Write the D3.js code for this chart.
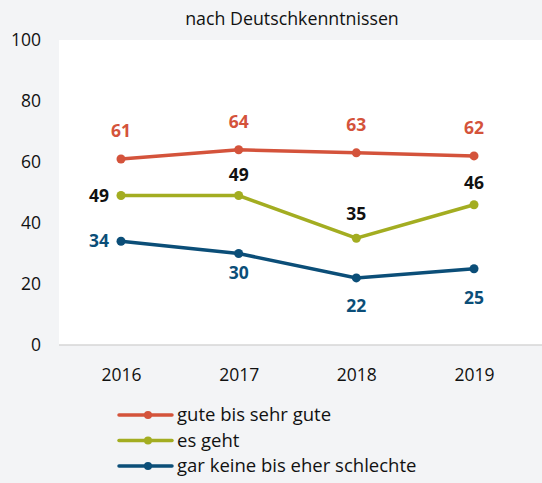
<!DOCTYPE html>
<html>
<head>
<meta charset="utf-8">
<script src="https://cdn.jsdelivr.net/npm/d3@7"></script>
<style>
  body { margin: 0; background: #f3f4f6; }
  text { font-family: "Open Sans", "Noto Sans", sans-serif; }
</style>
</head>
<body>
<script>
var width = 542
var height = 483

// data
var years = ["2016", "2017", "2018", "2019"]
var guteBisSehrGute = [61, 64, 63, 62]
var esGeht = [49, 49, 35, 46]
var garKeine = [34, 30, 22, 25]
var yTicks = [0, 20, 40, 60, 80, 100]

// label placement per point: horizontal shift, vertical shift
var series = [
  {name: "gute bis sehr gute", values: guteBisSehrGute, color: "#d4533b", labelColor: "#d4533b",
   dx: [0, 0, 0, 0], dy: [-28, -28, -28, -28]},
  {name: "es geht", values: esGeht, color: "#a3ad21", labelColor: "#111",
   dx: [-12, 0, 0, 0], dy: [0, -21, -24, -22]},
  {name: "gar keine bis eher schlechte", values: garKeine, color: "#0b4e78", labelColor: "#0b4e78",
   dx: [-12, 0, 0, 0], dy: [0, 19, 28, 29]}
]

var svg = d3.select("body").append("svg")
    .attr("width", width)
    .attr("height", height)

// plot panel
svg.append("rect")
    .attr("x", 59).attr("y", 40)
    .attr("width", width - 59).attr("height", 305)
    .attr("fill", "#fff")

var x = d3.scalePoint().domain(years).range([121, 474])
var y = d3.scaleLinear().domain([0, 100]).range([345, 40])

svg.append("text")
    .attr("x", 292).attr("y", 25)
    .attr("text-anchor", "middle")
    .attr("font-size", 17.8)
    .attr("fill", "#111")
    .text("nach Deutschkenntnissen")

// baseline
svg.append("line")
    .attr("x1", 59).attr("x2", width)
    .attr("y1", y(0)).attr("y2", y(0))
    .attr("stroke", "#d6d6d6").attr("stroke-width", 1.5)

var yAxis = svg.append("g")
    .attr("transform", "translate(41,0)")
    .call(d3.axisLeft(y).tickValues(yTicks).tickSize(0).tickPadding(0))
yAxis.select(".domain").remove()
yAxis.selectAll("text")
    .attr("font-size", 17.5).attr("fill", "#111")
    .attr("font-family", "'Open Sans', 'Noto Sans', sans-serif")

var xAxis = svg.append("g")
    .attr("transform", "translate(0,375)")
    .call(d3.axisBottom(x).tickSize(0).tickPadding(0))
xAxis.select(".domain").remove()
xAxis.selectAll("text")
    .attr("font-size", 17.5).attr("fill", "#111")
    .attr("dy", "0.35em")
    .attr("font-family", "'Open Sans', 'Noto Sans', sans-serif")

var line = d3.line()
    .x(function(d, i) { return x(years[i]) })
    .y(function(d) { return y(d) })

series.forEach(function(s) {
  var g = svg.append("g")
  g.append("path")
      .attr("d", line(s.values))
      .attr("fill", "none")
      .attr("stroke", s.color)
      .attr("stroke-width", 3.5)
  g.selectAll("circle")
      .data(s.values)
      .enter().append("circle")
      .attr("cx", function(d, i) { return x(years[i]) })
      .attr("cy", function(d) { return y(d) })
      .attr("r", 4.5)
      .attr("fill", s.color)
  g.selectAll("text")
      .data(s.values)
      .enter().append("text")
      .attr("x", function(d, i) { return x(years[i]) + s.dx[i] })
      .attr("y", function(d, i) { return y(d) + s.dy[i] })
      .attr("dy", "0.35em")
      .attr("text-anchor", function(d, i) { return s.dx[i] < 0 ? "end" : "middle" })
      .attr("font-size", 17.5)
      .attr("font-weight", "bold")
      .attr("fill", s.labelColor)
      .text(function(d) { return d })
})

// legend
var legend = svg.append("g")
legend.selectAll("g")
    .data(series)
    .enter().append("g")
    .attr("transform", function(d, i) { return "translate(119," + (415 + i * 25.5) + ")" })
    .each(function(d) {
      var el = d3.select(this)
      el.append("line")
          .attr("x1", 0).attr("x2", 53)
          .attr("stroke", d.color).attr("stroke-width", 3.5)
          .attr("stroke-linecap", "round")
      el.append("circle").attr("cx", 29).attr("r", 4).attr("fill", d.color)
      el.append("text")
          .attr("x", 58).attr("dy", "0.35em")
          .attr("font-size", 18.5).attr("fill", "#111")
          .text(d.name)
    })
</script>
</body>
</html>
